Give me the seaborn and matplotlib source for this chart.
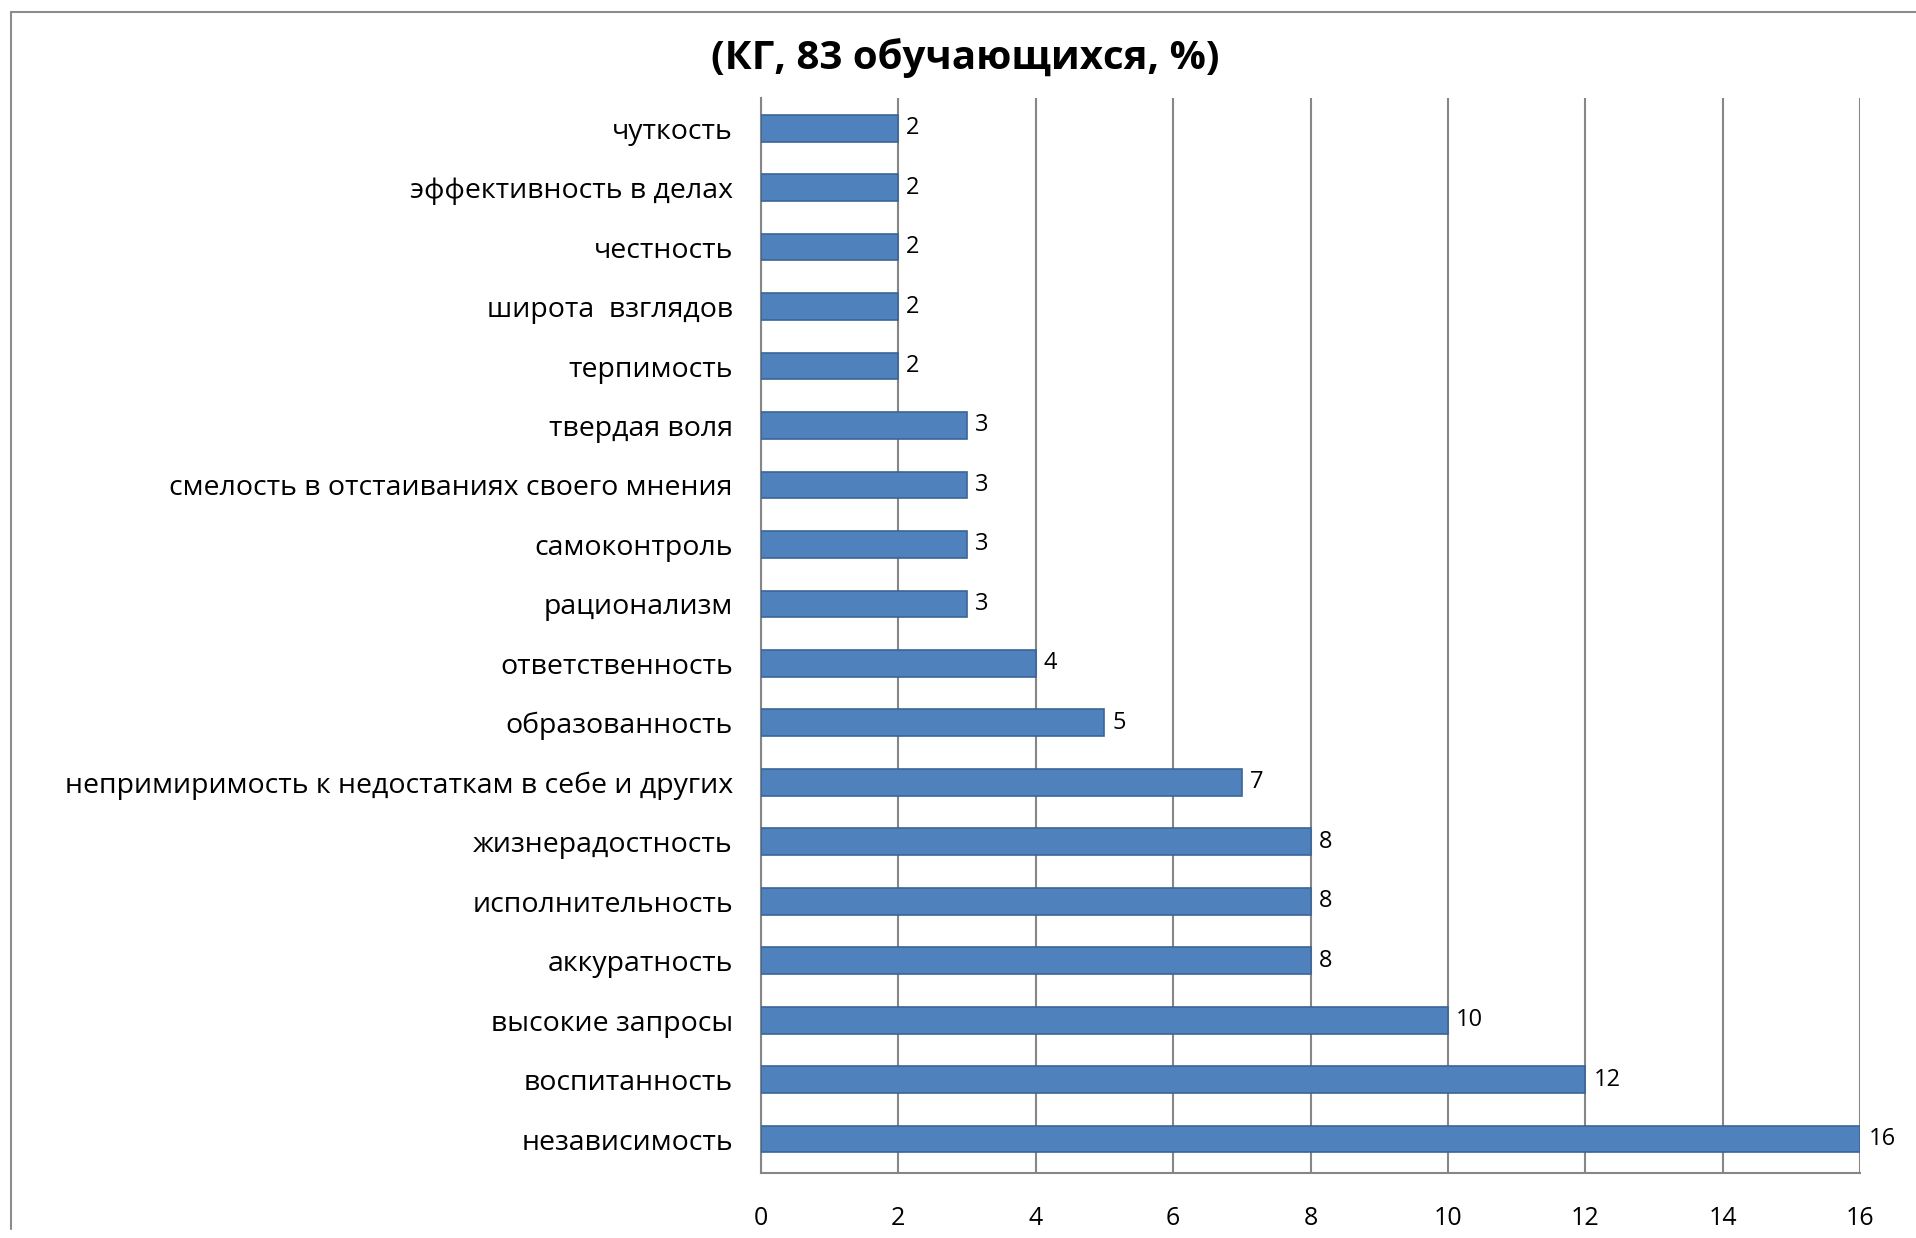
import seaborn as sns
import matplotlib.pyplot as plt
import pandas as pd

categories = [
    'чуткость',
    'эффективность в делах',
    'честность',
    'широта  взглядов',
    'терпимость',
    'твердая воля',
    'смелость в отстаиваниях своего мнения',
    'самоконтроль',
    'рационализм',
    'ответственность',
    'образованность',
    'непримиримость к недостаткам в себе и других',
    'жизнерадостность',
    'исполнительность',
    'аккуратность',
    'высокие запросы',
    'воспитанность',
    'независимость',
]
values = [2, 2, 2, 2, 2, 3, 3, 3, 3, 4, 5, 7, 8, 8, 8, 10, 12, 16]
x_ticks = [0, 2, 4, 6, 8, 10, 12, 14, 16]
title = '(КГ, 83 обучающихся, %)'

df = pd.DataFrame({'trait': categories, 'pct': values})

sns.set_style('white')
plt.rcParams['font.family'] = ['Open Sans', 'DejaVu Sans']
plt.rcParams['text.color'] = 'black'
plt.rcParams['xtick.color'] = 'black'
plt.rcParams['ytick.color'] = 'black'

fig = plt.figure(figsize=(19.16, 12.38), dpi=100)
ax = fig.add_axes([0.397, 0.0525, 0.574, 0.868])

sns.barplot(data=df, x='pct', y='trait', orient='h', color='#4F81BD',
            saturation=1, width=0.45, edgecolor='#3A6596', linewidth=1.2,
            ax=ax, zorder=3)

ax.set_xlim(0, 16)
ax.set_ylim(17.57, -0.5)
ax.set_xticks(x_ticks)
ax.set_xticklabels([str(t) for t in x_ticks], fontsize=18)
ax.tick_params(axis='x', length=8, width=1.5, color='#868686', pad=16)
ax.tick_params(axis='y', length=0, pad=20, labelsize=20.5)
ax.set_yticks([i + 0.5 for i in range(-1, len(categories))], minor=True)
ax.tick_params(axis='y', which='minor', length=8, width=1.5, color='#868686')
ax.set_xlabel('')
ax.set_ylabel('')
ax.grid(axis='x', color='#868686', linewidth=1.5, zorder=0)

for s in ['top', 'right']:
    ax.spines[s].set_visible(False)
for s in ['left', 'bottom']:
    ax.spines[s].set_color('#868686')
    ax.spines[s].set_linewidth(1.5)

for i, v in enumerate(values):
    ax.text(v + 0.12, i, str(v), va='center', ha='left', fontsize=17, color='black')

fig.text(0.504, 0.953, title, ha='center', va='center', fontsize=29,
         fontweight='bold', color='black')

# outer chart border (left and top visible)
fig.add_artist(plt.Line2D([0.006, 0.006], [0.007, 0.99], color='#8c8c8c', linewidth=1.5))
fig.add_artist(plt.Line2D([0.006, 1.0], [0.99, 0.99], color='#8c8c8c', linewidth=1.5))

plt.savefig('out.png', dpi=100)
